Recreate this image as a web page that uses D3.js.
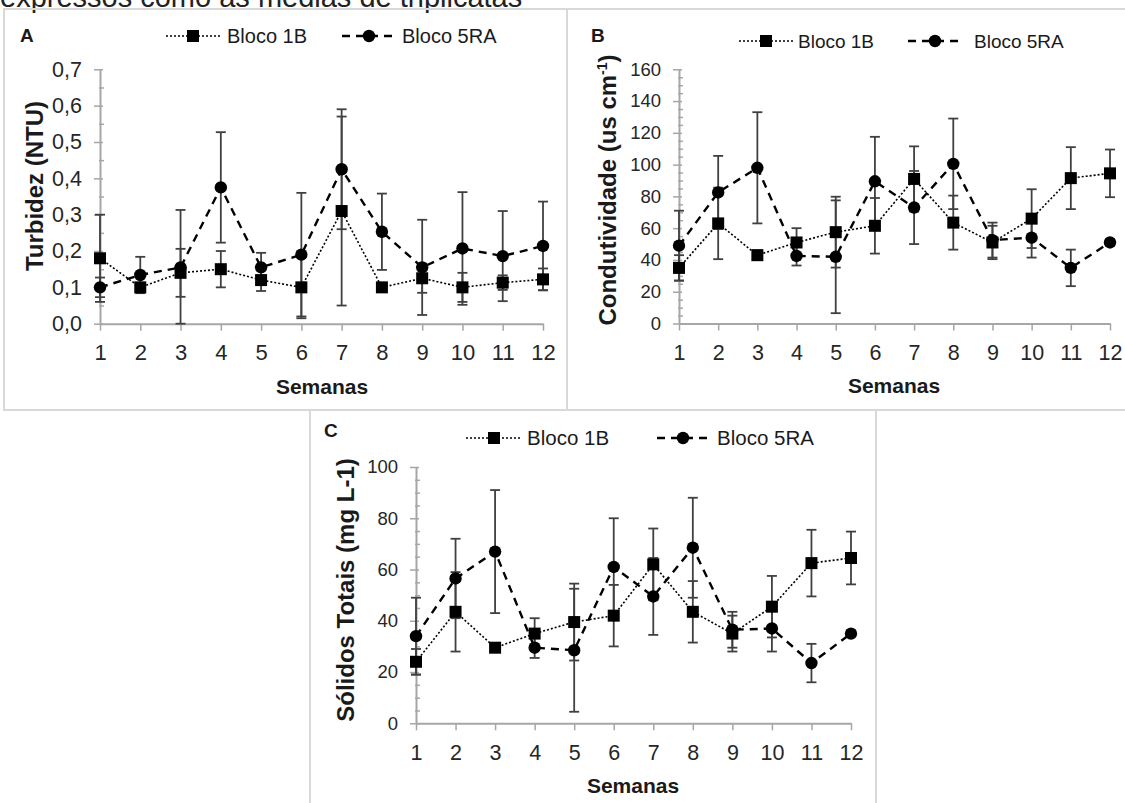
<!DOCTYPE html>
<html>
<head>
<meta charset="utf-8">
<script src="https://cdn.jsdelivr.net/npm/d3@7"></script>
<style>
  body { margin: 0; background: #fff; }
  svg { display: block; font-family: "Liberation Sans", Arial, sans-serif; }
</style>
</head>
<body>
<div id="chart"></div>
<script>
// weeks on the x axis
const weeks = [1, 2, 3, 4, 5, 6, 7, 8, 9, 10, 11, 12];
const seriesNames = ["Bloco 1B", "Bloco 5RA"];

// A - Turbidez (NTU)
const turbidez1B = [0.18, 0.10, 0.14, 0.15, 0.12, 0.10, 0.31, 0.10, 0.125, 0.10, 0.113, 0.122];
const turbidez1BErr = [0.12, 0.01, 0.066, 0.05, 0.03, 0.085, 0.26, 0.01, 0.04, 0.04, 0.02, 0.03];
const turbidez5RA = [0.10, 0.134, 0.155, 0.375, 0.155, 0.19, 0.425, 0.253, 0.155, 0.207, 0.186, 0.214];
const turbidez5RAErr = [0.027, 0.05, 0.158, 0.152, 0.04, 0.17, 0.165, 0.105, 0.131, 0.155, 0.124, 0.122];

// B - Condutividade (us cm-1)
const cond1B = [35, 63, 43, 51, 57.5, 61.5, 91, 63.5, 51, 66, 91.5, 94.5];
const cond1BErr = [8, 22.5, 3, 9, 22.3, 17.5, 20.5, 17, 10.5, 18.5, 19.5, 15];
const cond5RA = [49, 82.5, 98, 42.5, 42, 89.5, 73, 100.5, 52.5, 54, 35, 51];
const cond5RAErr = [22, 23, 35, 6, 35.5, 28, 23, 28.5, 11, 12.5, 11.5, 2];

// C - Solidos Totais (mg L-1)
const solidos1B = [24, 43.5, 29.5, 35, 39.5, 42, 62, 43.5, 35, 45.5, 62.5, 64.5];
const solidos1BErr = [5, 15.5, 1, 6, 15, 12, 14, 12, 7, 12, 13, 10.3];
const solidos5RA = [34, 56.5, 67, 29.5, 28.5, 61, 49.5, 68.5, 36.5, 37, 23.5, 35];
const solidos5RAErr = [15, 15.5, 24, 4, 24, 19, 15, 19.5, 7, 9, 7.5, 1];

const ptLocale = d3.formatLocale({ decimal: ",", thousands: ".", grouping: [3], currency: ["R$", ""] });

const svg = d3.select("#chart").append("svg")
    .attr("width", 1125)
    .attr("height", 803);

// caption line cut off at the top of the picture
svg.append("text")
    .attr("x", 0)
    .attr("y", 7)
    .attr("font-size", "29px")
    .attr("fill", "#222")
    .text("expressos como as médias de triplicatas");

const panels = [
    {
        letter: "A", box: [4, 9, 563, 401],
        left: 100, right: 543, top: 69.3, bottom: 323.7,
        yDomain: [0, 0.7], major: 0.1, minor: 0.05, fmt: ptLocale.format(".1f"),
        yFont: 21.5, xFont: 22,
        title: "Turbidez (NTU)", titleX: 43, titleY: 186,
        semanasX: 322, semanasY: 394,
        letterX: 20, letterY: 42,
        legendY: 36, legendFont: 20,
        legend: [{ x1: 166, x2: 220, m: 193, tx: 227 }, { x1: 342, x2: 396, m: 369, tx: 402 }],
        s1: turbidez1B, e1: turbidez1BErr, s2: turbidez5RA, e2: turbidez5RAErr
    },
    {
        letter: "B", box: [567, 9, 570, 401],
        left: 679, right: 1110, top: 69.3, bottom: 323.5,
        yDomain: [0, 160], major: 20, minor: 5, fmt: d3.format("d"),
        yFont: 18.5, xFont: 21.5,
        title: "Condutividade (us cm", sup: "-1", titleX: 616, titleY: 190,
        semanasX: 894, semanasY: 393,
        letterX: 591, letterY: 42,
        legendY: 41, legendFont: 19,
        legend: [{ x1: 739, x2: 794, m: 766, tx: 798 }, { x1: 908, x2: 962, m: 935, tx: 974 }],
        s1: cond1B, e1: cond1BErr, s2: cond5RA, e2: cond5RAErr
    },
    {
        letter: "C", box: [310, 410, 566, 400],
        left: 416, right: 851, top: 467, bottom: 723.3,
        yDomain: [0, 100], major: 20, minor: 5, fmt: d3.format("d"),
        yFont: 18.5, xFont: 21.5,
        title: "Sólidos Totais (mg L-1)", titleX: 354, titleY: 590,
        semanasX: 633, semanasY: 793,
        letterX: 324, letterY: 437,
        legendY: 438, legendFont: 20.5,
        legend: [{ x1: 466, x2: 522, m: 494, tx: 527 }, { x1: 657, x2: 710, m: 683, tx: 717 }],
        s1: solidos1B, e1: solidos1BErr, s2: solidos5RA, e2: solidos5RAErr
    }
];

const lineStyles = [
    { dash: "2,2", width: 1.6 },
    { dash: "8,6", width: 2.4 }
];

function drawMarker(g, i, cx, cy) {
    if (i === 0) {
        g.append("rect")
            .attr("x", cx - 6).attr("y", cy - 6)
            .attr("width", 12).attr("height", 12)
            .attr("fill", "#000");
    } else {
        g.append("circle")
            .attr("cx", cx).attr("cy", cy).attr("r", 6.2)
            .attr("fill", "#000");
    }
}

function drawPanel(p) {
    const g = svg.append("g");

    g.append("rect")
        .attr("x", p.box[0]).attr("y", p.box[1])
        .attr("width", p.box[2]).attr("height", p.box[3])
        .attr("fill", "none")
        .attr("stroke", "#d9d9d9")
        .attr("stroke-width", 2);

    const x = d3.scalePoint().domain(weeks).range([p.left, p.right]);
    const y = d3.scaleLinear().domain(p.yDomain).range([p.bottom, p.top]);

    const eps = p.major / 1000;
    const majors = d3.range(p.yDomain[0], p.yDomain[1] + eps, p.major);
    const minors = d3.range(p.yDomain[0], p.yDomain[1] + eps, p.minor)
        .filter(v => Math.abs(v / p.major - Math.round(v / p.major)) > 0.01);

    // minor ticks
    g.append("g")
        .attr("transform", `translate(${p.left},0)`)
        .call(d3.axisLeft(y).tickValues(minors).tickSize(0).tickFormat(""))
        .call(a => a.select(".domain").remove())
        .selectAll(".tick line")
        .attr("x1", -1).attr("x2", 4)
        .attr("stroke", "#a6a6a6").attr("stroke-width", 1.5);

    // y axis
    const yAx = g.append("g")
        .attr("transform", `translate(${p.left},0)`)
        .call(d3.axisLeft(y).tickValues(majors).tickSizeInner(6).tickSizeOuter(0)
            .tickPadding(12).tickFormat(p.fmt));
    yAx.select(".domain").attr("stroke", "#a6a6a6").attr("stroke-width", 2);
    yAx.selectAll(".tick line").attr("x1", 3).attr("x2", -6)
        .attr("stroke", "#a6a6a6").attr("stroke-width", 1.5);
    yAx.selectAll(".tick text")
        .attr("font-size", p.yFont + "px")
        .attr("font-family", "Liberation Sans, Arial, sans-serif")
        .attr("fill", "#262626");

    // x axis
    const xAx = g.append("g")
        .attr("transform", `translate(0,${p.bottom})`)
        .call(d3.axisBottom(x).tickSizeInner(7).tickSizeOuter(0).tickPadding(14));
    xAx.select(".domain").attr("stroke", "#a6a6a6").attr("stroke-width", 2);
    xAx.selectAll(".tick line").attr("stroke", "#a6a6a6").attr("stroke-width", 1.5);
    xAx.selectAll(".tick text")
        .attr("font-size", p.xFont + "px")
        .attr("font-family", "Liberation Sans, Arial, sans-serif")
        .attr("fill", "#262626");

    const series = [
        { values: p.s1, errs: p.e1 },
        { values: p.s2, errs: p.e2 }
    ];

    // error bars
    series.forEach(s => {
        const eb = g.append("g")
            .attr("stroke", "#404040")
            .attr("stroke-width", 1.8);
        weeks.forEach((w, i) => {
            const cx = x(w);
            const lo = y(Math.max(p.yDomain[0], s.values[i] - s.errs[i]));
            const hi = y(s.values[i] + s.errs[i]);
            eb.append("line").attr("x1", cx).attr("x2", cx).attr("y1", lo).attr("y2", hi);
            eb.append("line").attr("x1", cx - 5).attr("x2", cx + 5).attr("y1", lo).attr("y2", lo);
            eb.append("line").attr("x1", cx - 5).attr("x2", cx + 5).attr("y1", hi).attr("y2", hi);
        });
    });

    // lines and markers
    const line = d3.line().x((d, i) => x(weeks[i])).y(d => y(d));
    series.forEach((s, k) => {
        g.append("path")
            .datum(s.values)
            .attr("d", line)
            .attr("fill", "none")
            .attr("stroke", "#000")
            .attr("stroke-width", lineStyles[k].width)
            .attr("stroke-dasharray", lineStyles[k].dash);
    });
    series.forEach((s, k) => {
        const mg = g.append("g");
        s.values.forEach((v, i) => drawMarker(mg, k, x(weeks[i]), y(v)));
    });

    // titles
    const t = g.append("text")
        .attr("transform", `translate(${p.titleX},${p.titleY}) rotate(-90)`)
        .attr("text-anchor", "middle")
        .attr("font-size", "24px")
        .attr("font-weight", "bold")
        .attr("fill", "#1a1a1a");
    t.append("tspan").text(p.title);
    if (p.sup) {
        t.append("tspan").attr("dy", -9).attr("font-size", "14px").text(p.sup);
        t.append("tspan").attr("dy", 9).text(")");
    }

    g.append("text")
        .attr("x", p.semanasX).attr("y", p.semanasY)
        .attr("text-anchor", "middle")
        .attr("font-size", "21px")
        .attr("font-weight", "bold")
        .attr("fill", "#1a1a1a")
        .text("Semanas");

    g.append("text")
        .attr("x", p.letterX).attr("y", p.letterY)
        .attr("font-size", "19px")
        .attr("font-weight", "bold")
        .attr("fill", "#1a1a1a")
        .text(p.letter);

    // legend
    p.legend.forEach((it, k) => {
        const lg = g.append("g");
        lg.append("line")
            .attr("x1", it.x1).attr("x2", it.x2)
            .attr("y1", p.legendY).attr("y2", p.legendY)
            .attr("stroke", "#000")
            .attr("stroke-width", lineStyles[k].width)
            .attr("stroke-dasharray", lineStyles[k].dash);
        drawMarker(lg, k, it.m, p.legendY);
        lg.append("text")
            .attr("x", it.tx).attr("y", p.legendY)
            .attr("dy", "0.36em")
            .attr("font-size", p.legendFont + "px")
            .attr("fill", "#1a1a1a")
            .text(seriesNames[k]);
    });
}

panels.forEach(drawPanel);
</script>
</body>
</html>
